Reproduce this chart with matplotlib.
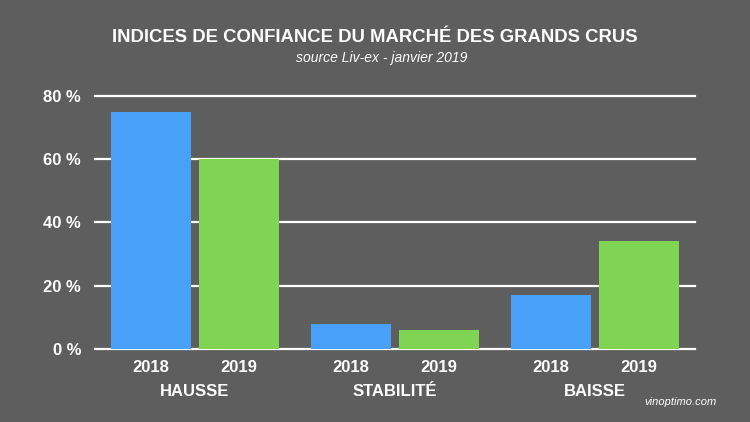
import matplotlib.pyplot as plt
import numpy as np

plt.rcParams['font.family'] = ['Liberation Sans', 'DejaVu Sans']

categories = ['HAUSSE', 'STABILITÉ', 'BAISSE']
years = ['2018', '2019']
values_2018 = [75, 8, 17]
values_2019 = [60, 6, 34]
yticks = [0, 20, 40, 60, 80]

bg = '#5e5e5e'
blue = '#48a0f8'
green = '#80d454'

fig = plt.figure(figsize=(7.5, 4.22), dpi=100, facecolor=bg)
ax = fig.add_axes([95/750, 73/422, 600/750, 253/422], facecolor=bg)

x = np.arange(len(categories))
ax.bar(x - 0.22, values_2018, width=0.4, color=blue, zorder=3)
ax.bar(x + 0.22, values_2019, width=0.4, color=green, zorder=3)

for t in yticks:
    ax.axhline(t, color='white', lw=1.6, zorder=2, clip_on=False)

ax.set_xlim(-0.5, 2.5)
ax.set_ylim(0, 80)
ax.set_yticks(yticks)
ax.set_yticklabels(['{} %'.format(t) for t in yticks], color='white',
                   fontsize=12, fontweight='bold')
ax.tick_params(axis='y', length=0, pad=10)
ax.set_xticks([])
for s in ax.spines.values():
    s.set_visible(False)

# year labels and category labels under the bars
for i, cat in enumerate(categories):
    for off, yr in zip([-0.22, 0.22], years):
        ax.text(i + off, -5.9, yr, ha='center', va='center', color='white',
                fontsize=12, fontweight='bold')
    ax.text(i, -13.5, cat, ha='center', va='center', color='white',
            fontsize=12, fontweight='bold')

fig.text(375/750, 1 - 38/422, 'INDICES DE CONFIANCE DU MARCHÉ DES GRANDS CRUS',
         ha='center', va='center', color='white', fontsize=13.3, fontweight='bold')
fig.text(382/750, 1 - 58/422, 'source Liv-ex - janvier 2019', ha='center',
         va='center', color='white', fontsize=10, style='italic')
fig.text(717/750, 1 - 402/422, 'vinoptimo.com', ha='right', va='center',
         color='white', fontsize=8, style='italic')

fig.savefig('out.png', dpi=100, facecolor=bg)
